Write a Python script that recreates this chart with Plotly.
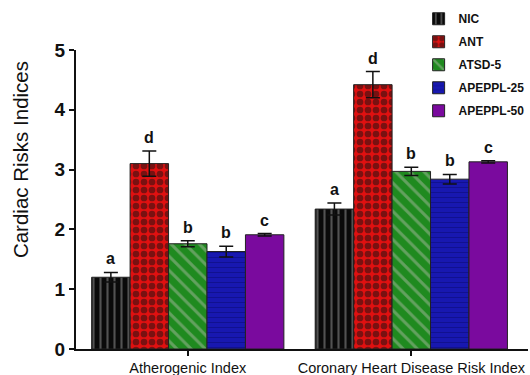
import plotly.graph_objects as go

categories = ["Atherogenic Index", "Coronary Heart Disease Risk Index"]
groups = ["NIC", "ANT", "ATSD-5", "APEPPL-25", "APEPPL-50"]
nic = [1.20, 2.34]
ant = [3.10, 4.42]
atsd = [1.76, 2.97]
apeppl25 = [1.63, 2.84]
apeppl50 = [1.91, 3.13]
nic_err = [0.08, 0.10]
ant_err = [0.21, 0.22]
atsd_err = [0.05, 0.07]
apeppl25_err = [0.09, 0.08]
apeppl50_err = [0.02, 0.02]
letters_ath = ["a", "d", "b", "b", "c"]
letters_chd = ["a", "d", "b", "b", "c"]
y_title = "Cardiac Risks Indices"

values = [nic, ant, atsd, apeppl25, apeppl50]
errors = [nic_err, ant_err, atsd_err, apeppl25_err, apeppl50_err]
styles = [
    dict(color="#0a0a0a", pattern=dict(shape="|", fgcolor="#9a9a9a", bgcolor="#0a0a0a", size=7, solidity=0.3)),
    dict(color="#e01010", pattern=dict(shape=".", fgcolor="#111111", bgcolor="#e01010", size=8, solidity=0.55)),
    dict(color="#1f8a1f", pattern=dict(shape="\\", fgcolor="#a8b8a0", bgcolor="#1f8a1f", size=10, solidity=0.3)),
    dict(color="#1010a8", pattern=dict(shape="-", fgcolor="#0a0a70", bgcolor="#1818b0", size=5, solidity=0.2)),
    dict(color="#7a0a9e"),
]

fig = go.Figure()
for name, v, e, st in zip(groups, values, errors, styles):
    fig.add_trace(go.Bar(
        name=name, x=categories, y=v,
        marker=dict(**st, line=dict(color="#222222", width=1)),
        error_y=dict(type="data", array=e, visible=True, color="#111111", thickness=1.5, width=7),
        legendgroup=name,
    ))

letters = [letters_ath, letters_chd]
n = len(groups)
gw = 1 - 0.14
bw = gw / n
for ci, cat in enumerate(categories):
    for gi in range(n):
        xpos = ci - gw / 2 + bw * (gi + 0.5)
        ytop = values[gi][ci] + errors[gi][ci]
        fig.add_annotation(x=xpos, y=ytop, xref="x", yref="y", text="<b>" + letters[ci][gi] + "</b>",
                           showarrow=False, yanchor="bottom", yshift=3,
                           font=dict(family="Liberation Sans", size=16, color="#111111"))

fig.add_annotation(x=-0.124, y=0.635, xref="paper", yref="paper", text=y_title, textangle=-90,
                   showarrow=False, xanchor="center", yanchor="middle",
                   font=dict(family="Liberation Sans", size=20.5, color="#111111"))

fig.update_layout(
    width=530, height=375,
    margin=dict(l=76, r=2, t=50, b=26, autoexpand=False),
    paper_bgcolor="white", plot_bgcolor="white",
    barmode="group", bargap=0.14, bargroupgap=0,
    font=dict(family="Liberation Sans", color="#111111"),
    legend=dict(x=0.758, y=1.153, xanchor="left", yanchor="top", bgcolor="rgba(0,0,0,0)",
                font=dict(family="Liberation Sans", size=12, color="#111111", weight="bold"),
                tracegroupgap=4),
    showlegend=True,
)
fig.update_xaxes(type="category", range=[-0.5, 1.522], showline=True, linecolor="#111111", linewidth=2,
                 ticks="outside", ticklen=5, tickwidth=2, tickcolor="#111111", automargin=False,
                 tickfont=dict(size=14.5), showgrid=False)
fig.update_yaxes(range=[0, 5], dtick=1, showline=True, linecolor="#111111", linewidth=2,
                 ticks="outside", ticklen=5, tickwidth=2, tickcolor="#111111", automargin=False,
                 tickfont=dict(size=19, family="Liberation Sans", weight="bold"), showgrid=False, zeroline=False)

fig.write_html("out.html")
